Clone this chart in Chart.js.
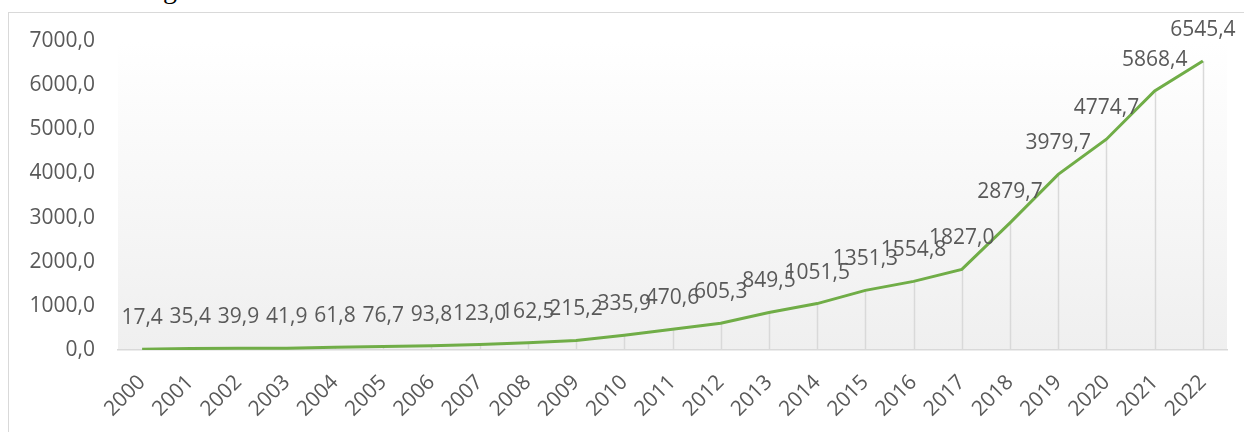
<!DOCTYPE html>
<html>
<head>
<meta charset="utf-8">
<script src="https://cdn.jsdelivr.net/npm/chart.js@4.4.1/dist/chart.umd.min.js"></script>
<style>
  html, body { margin: 0; padding: 0; background: #fff; overflow: hidden; }
  #wrap { position: relative; width: 1244px; height: 432px; }
  #frame { position: absolute; left: 8px; top: 12px; width: 1400px; height: 600px; border: 1px solid #d9d9d9; box-sizing: border-box; }
  #head { position: absolute; left: 163px; top: -25px; font: 28px/28px "Liberation Serif", serif; color: #000; }
  #chartVentas { position: absolute; left: 0; top: 0; }
</style>
</head>
<body>
<div id="wrap">
  <div id="frame"></div>
  <div id="head">g</div>
  <canvas id="chartVentas" width="1244" height="432"></canvas>
</div>
<script>
  const years = ['2000', '2001', '2002', '2003', '2004', '2005', '2006', '2007', '2008', '2009', '2010', '2011',
    '2012', '2013', '2014', '2015', '2016', '2017', '2018', '2019', '2020', '2021', '2022'];
  const values = [17.4, 35.4, 39.9, 41.9, 61.8, 76.7, 93.8, 123.0, 162.5, 215.2, 335.9, 470.6,
    605.3, 849.5, 1051.5, 1351.3, 1554.8, 1827.0, 2879.7, 3979.7, 4774.7, 5868.4, 6545.4];
  const yTicks = [0, 1000, 2000, 3000, 4000, 5000, 6000, 7000];

  const fmt = v => v.toFixed(1).replace('.', ',');
  const font = '"Open Sans", sans-serif';

  // fondo degradado del área de trazado
  const fondo = {
    id: 'fondo',
    beforeDraw(chart) {
      const { ctx, chartArea: a } = chart;
      const g = ctx.createLinearGradient(0, a.top, 0, a.bottom);
      g.addColorStop(0, '#ffffff');
      g.addColorStop(1, '#efefef');
      ctx.save();
      ctx.fillStyle = g;
      ctx.fillRect(a.left, a.top, a.right - a.left, a.bottom - a.top);
      ctx.restore();
    }
  };

  // líneas de caída desde cada punto hasta el eje
  const caida = {
    id: 'caida',
    beforeDatasetsDraw(chart) {
      const { ctx } = chart;
      const y0 = chart.scales.y.getPixelForValue(0);
      ctx.save();
      ctx.strokeStyle = '#d9d9d9';
      ctx.lineWidth = 1.5;
      chart.getDatasetMeta(0).data.forEach(p => {
        ctx.beginPath();
        ctx.moveTo(Math.round(p.x) + 0.5, p.y);
        ctx.lineTo(Math.round(p.x) + 0.5, y0);
        ctx.stroke();
      });
      ctx.restore();
    }
  };

  // etiquetas de datos encima de cada punto
  const etiquetas = {
    id: 'etiquetas',
    afterDatasetsDraw(chart) {
      const { ctx } = chart;
      ctx.save();
      ctx.font = '21px ' + font;
      ctx.fillStyle = '#595959';
      ctx.textAlign = 'center';
      ctx.textBaseline = 'middle';
      chart.getDatasetMeta(0).data.forEach((p, i) => {
        ctx.fillText(fmt(values[i]), p.x, p.y - 31);
      });
      ctx.restore();
    }
  };

  const ctx = document.getElementById('chartVentas');

  new Chart(ctx, {
    type: 'line',
    data: {
      labels: years,
      datasets: [{
        data: values,
        borderColor: '#70AD47',
        borderWidth: 3,
        pointRadius: 0,
        tension: 0,
        fill: false
      }]
    },
    options: {
      responsive: false,
      devicePixelRatio: 1,
      animation: false,
      layout: { padding: { left: 0, top: 41, right: 17, bottom: 0 } },
      plugins: {
        legend: { display: false },
        tooltip: { enabled: false }
      },
      scales: {
        x: {
          offset: true,
          grid: { display: false, drawTicks: false },
          border: { display: true, color: '#d9d9d9', width: 1.5 },
          ticks: {
            color: '#595959',
            font: { family: font, size: 21 },
            minRotation: 45,
            maxRotation: 45,
            autoSkip: false,
            padding: 20
          },
          afterFit: s => { s.height = 82; }
        },
        y: {
          min: 0,
          max: 7000,
          grid: { display: false, drawTicks: false },
          border: { display: false },
          afterBuildTicks: s => { s.ticks = yTicks.map(v => ({ value: v })); },
          ticks: {
            color: '#595959',
            font: { family: font, size: 21 },
            padding: 23,
            callback: v => fmt(v)
          },
          afterFit: s => { s.width = 118; }
        }
      }
    },
    plugins: [fondo, caida, etiquetas]
  });
</script>
</body>
</html>
